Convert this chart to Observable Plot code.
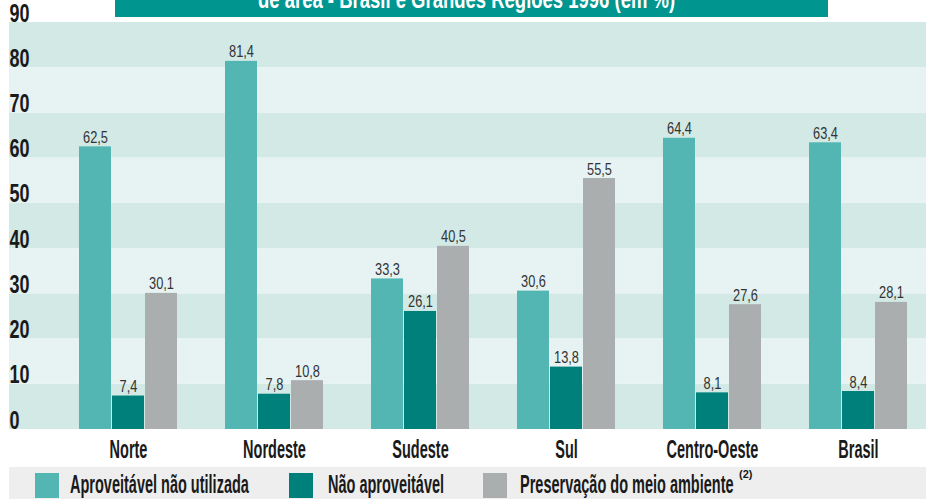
<!DOCTYPE html>
<html><head><meta charset="utf-8">
<script src="https://cdn.jsdelivr.net/npm/d3@7"></script>
<script src="https://cdn.jsdelivr.net/npm/@observablehq/plot@0.6"></script>
<style>
body{margin:0;background:#fff;}
#wrap{position:relative;width:926px;height:499px;overflow:hidden;font-family:"Liberation Sans",Arial,sans-serif;}
#chart{position:absolute;left:0;top:0;}
#title{position:absolute;left:115px;top:0;width:713px;height:17px;background:#00968f;overflow:hidden;z-index:2;}
#title span{position:absolute;left:143px;top:-13px;color:#fff;font-weight:bold;font-size:25px;line-height:25px;white-space:nowrap;transform-origin:0 0;}
#legend{position:absolute;left:9px;right:0;top:467px;height:32px;background:#eeeeee;}
.sw{position:absolute;top:6px;width:24px;height:25px;}
.lt{position:absolute;top:5px;font-weight:bold;font-size:25px;line-height:25px;color:#1a1a1a;white-space:nowrap;transform:scaleX(0.58);transform-origin:0 0;}
.sup{position:absolute;top:2px;font-weight:bold;font-size:11px;line-height:11px;color:#1a1a1a;}
</style></head>
<body>
<div id="wrap">
  <div id="chart"></div>
  <div id="title"><span id="titletext">de área - Brasil e Grandes Regiões 1996 (em %)</span></div>
  <div id="legend"></div>
</div>
<script>
const regions = ["Norte","Nordeste","Sudeste","Sul","Centro-Oeste","Brasil"];
const seriesNames = ["Aproveitável não utilizada","Não aproveitável","Preservação do meio ambiente"];
const aproveitavel = [62.5,81.4,33.3,30.6,64.4,63.4];
const naoAproveitavel = [7.4,7.8,26.1,13.8,8.1,8.4];
const preservacao = [30.1,10.8,40.5,55.5,27.6,28.1];
const yTicks = [0,10,20,30,40,50,60,70,80,90];
const colors = ["#53b6b3","#00807b","#abaeaf"];
const bandDark = "#d2e9e6", bandLight = "#e6f3f2";

const values = [aproveitavel, naoAproveitavel, preservacao];
const bands = yTicks.slice(0,-1).map((t,i)=>({y1:t, y2:yTicks[i+1], dark: i%2===0}));
const fmt = v => v.toFixed(1).replace(".", ",");
const bw = 33;

const marks = [
  Plot.rect(bands.filter(d=>d.dark), {y1:"y1", y2:"y2", fill: bandDark}),
  Plot.rect(bands.filter(d=>!d.dark), {y1:"y1", y2:"y2", fill: bandLight})
];
values.forEach((vals, i) => {
  const data = regions.map((r,j)=>({region:r, value:vals[j]}));
  marks.push(Plot.barY(data, {x:"region", y:"value", fill: colors[i], insetLeft: bw*i, insetRight: bw*(2-i)}));
  marks.push(Plot.text(data, {x:"region", y:"value", text: d=>fmt(d.value), dx:(i-1)*bw, dy:-4, lineAnchor:"bottom", fontSize:16, fill:"#333"}));
});
marks.push(Plot.text(yTicks, {y:d=>d, text:d=>String(d), frameAnchor:"left", textAnchor:"start", lineAnchor:"bottom", dy:-1, fontSize:25, fontWeight:"bold", fill:"#1a1a1a"}));
marks.push(Plot.text(regions, {x:d=>d, text:d=>d, frameAnchor:"bottom", dy:28, lineAnchor:"bottom", fontSize:25, fontWeight:"bold", fill:"#1a1a1a"}));

const chart = Plot.plot({
  width: 926, height: 467,
  marginLeft: 9, marginRight: 0, marginTop: 22, marginBottom: 38,
  x: {domain: regions, range:[62,925], paddingInner:0.326, paddingOuter:0.1, axis:null},
  y: {domain:[0,90], axis:null},
  style: {fontFamily:'"Liberation Sans",Arial,sans-serif', background:"transparent"},
  marks
});
document.getElementById("chart").appendChild(chart);

// condensed look: horizontal squeeze of text glyphs around their anchor
const squeeze = [0.8, 0.8, 0.8, 0.72, 0.58];
chart.querySelectorAll('g[aria-label="text"]').forEach((g, k) => {
  const s = squeeze[k] ?? 1;
  g.querySelectorAll("text").forEach(t => {
    const tr = t.getAttribute("transform") || "";
    t.setAttribute("transform", tr + ` scale(${s},1)`);
  });
});

const tt = document.getElementById("titletext");
tt.style.transform = `scaleX(${417 / tt.offsetWidth})`;

const legend = document.getElementById("legend");
const swX = [26, 280, 474], txX = [61, 319, 511];
seriesNames.forEach((name,i)=>{
  const s = document.createElement("div"); s.className="sw"; s.style.left=swX[i]+"px"; s.style.background=colors[i]; legend.appendChild(s);
  const t = document.createElement("div"); t.className="lt"; t.style.left=txX[i]+"px"; t.textContent = name;
  legend.appendChild(t);
});
const sup = document.createElement("div"); sup.className="sup"; sup.style.left="730px"; sup.textContent="(2)"; legend.appendChild(sup);
</script>
</body></html>
